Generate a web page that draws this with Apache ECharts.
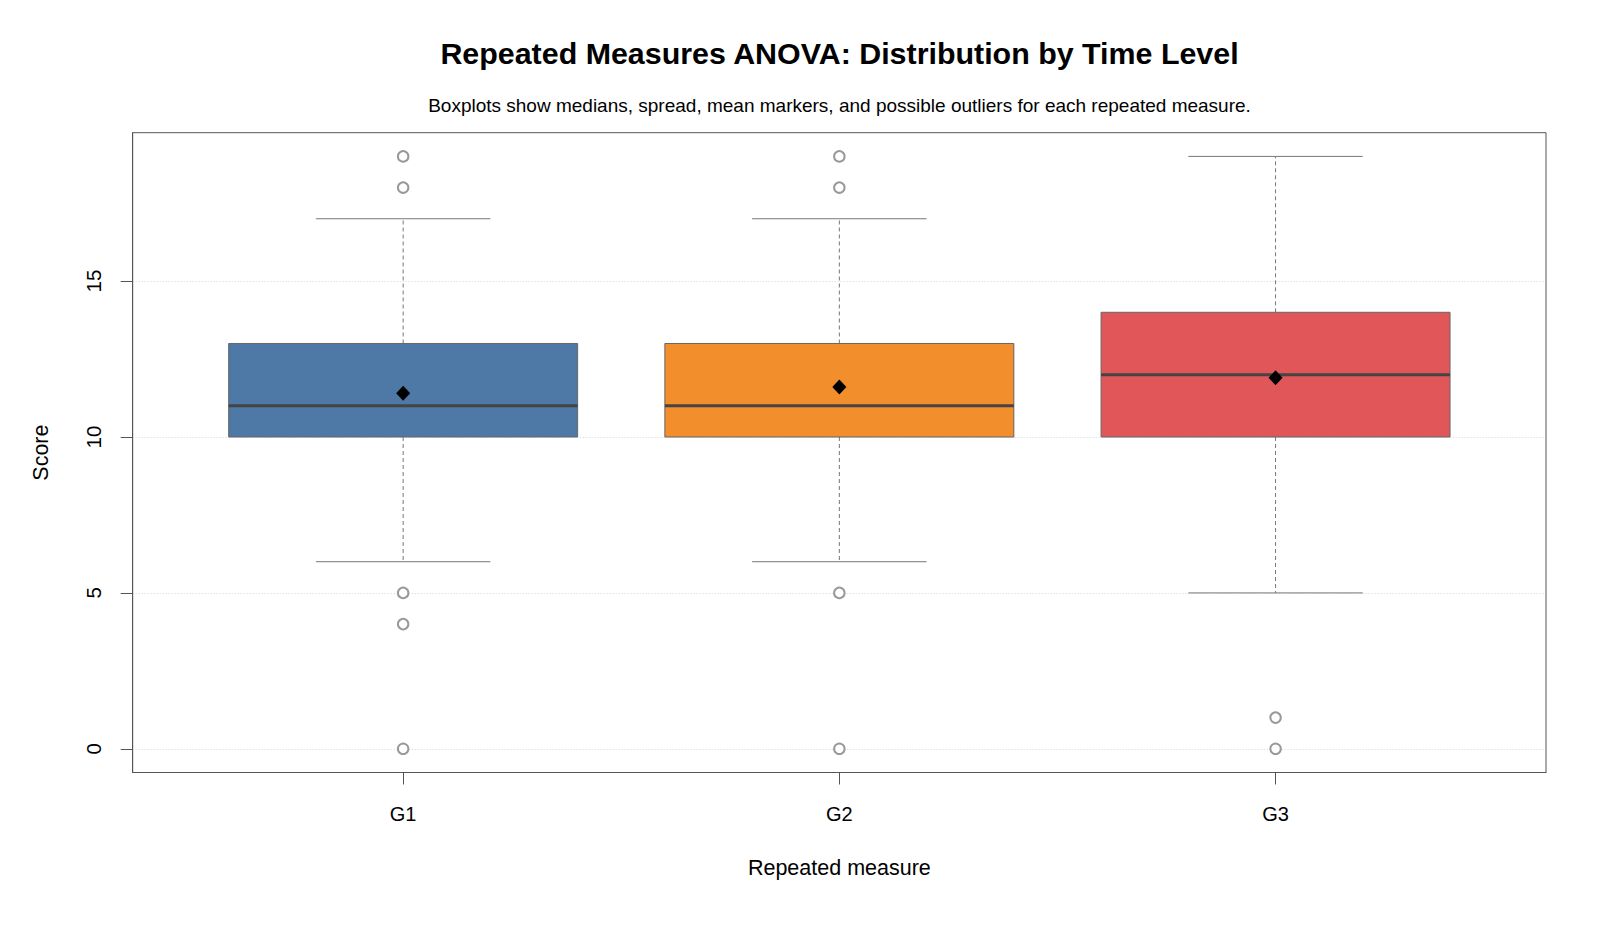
<!DOCTYPE html>
<html>
<head>
<meta charset="utf-8">
<script src="https://cdn.jsdelivr.net/npm/echarts@6/dist/echarts.min.js"></script>
<style>html,body{margin:0;padding:0;background:#fff;}#c{width:1600px;height:933px;}</style>
</head>
<body>
<div id="c"></div>
<script>
const categories = ['G1', 'G2', 'G3'];
const lowerWhisker = [6, 6, 5];
const q1 = [10, 10, 10];
const median = [11, 11, 12];
const q3 = [13, 13, 14];
const upperWhisker = [17, 17, 19];
const means = [11.4, 11.6, 11.9];
const outliers = [[19, 18, 5, 4, 0], [19, 18, 5, 0], [1, 0]];
const yTicks = [0, 5, 10, 15];
const boxColors = ['#4E79A7', '#F28E2B', '#E15759'];

const FONT = '"Liberation Sans", Arial, sans-serif';
const positions = categories.map((c, i) => i + 1);

const boxData = categories.map((c, i) => [positions[i], lowerWhisker[i], q1[i], median[i], q3[i], upperWhisker[i], i]);
const outlierData = [];
outliers.forEach((arr, i) => arr.forEach(v => outlierData.push([positions[i], v])));
const meanData = means.map((m, i) => [positions[i], m]);

function renderBox(params, api) {
  const x = api.value(0);
  const idx = api.value(6);
  const halfBox = api.size([0.4, 0])[0];
  const halfCap = api.size([0.2, 0])[0];
  const c = (v) => api.coord([x, v]);
  const pLw = c(api.value(1)), pQ1 = c(api.value(2)), pMed = c(api.value(3)), pQ3 = c(api.value(4)), pUw = c(api.value(5));
  const cx = pQ1[0];
  const dash = { stroke: '#777', lineWidth: 1, lineDash: [4, 3] };
  const solid = { stroke: '#777', lineWidth: 1 };
  return {
    type: 'group',
    children: [
      { type: 'line', shape: { x1: cx, y1: pQ1[1], x2: cx, y2: pLw[1] }, style: dash },
      { type: 'line', shape: { x1: cx, y1: pQ3[1], x2: cx, y2: pUw[1] }, style: dash },
      { type: 'line', shape: { x1: cx - halfCap, y1: pLw[1], x2: cx + halfCap, y2: pLw[1] }, style: solid },
      { type: 'line', shape: { x1: cx - halfCap, y1: pUw[1], x2: cx + halfCap, y2: pUw[1] }, style: solid },
      { type: 'rect', shape: { x: cx - halfBox, y: pQ3[1], width: halfBox * 2, height: pQ1[1] - pQ3[1] },
        style: { fill: boxColors[idx], stroke: '#666', lineWidth: 1 } },
      { type: 'line', shape: { x1: cx - halfBox, y1: pMed[1], x2: cx + halfBox, y2: pMed[1] },
        style: { stroke: '#444', lineWidth: 3 } }
    ]
  };
}

const chart = echarts.init(document.getElementById('c'), null, { renderer: 'svg' });
chart.setOption({
  backgroundColor: '#fff',
  animation: false,
  grid: { left: 132.7, right: 54, top: 132.7, bottom: 160.5, show: true, borderColor: '#555', borderWidth: 1, backgroundColor: 'transparent' },
  graphic: [
    { type: 'text', x: 839.5, y: 53, style: { text: 'Repeated Measures ANOVA: Distribution by Time Level', font: 'bold 30.4px ' + FONT, fill: '#000', textAlign: 'center', textVerticalAlign: 'middle' } },
    { type: 'text', x: 839.5, y: 105, style: { text: 'Boxplots show medians, spread, mean markers, and possible outliers for each repeated measure.', font: '19px ' + FONT, fill: '#000', textAlign: 'center', textVerticalAlign: 'middle' } }
  ],
  xAxis: {
    type: 'value', min: 0.38, max: 3.62,
    name: 'Repeated measure', nameLocation: 'middle', nameGap: 84,
    nameTextStyle: { fontFamily: FONT, fontSize: 21.5, color: '#000' },
    axisLine: { show: true, onZero: false, lineStyle: { color: '#555', width: 1 } },
    axisTick: { show: true, length: 12, lineStyle: { color: '#555' }, customValues: positions },
    axisLabel: { fontFamily: FONT, fontSize: 20, color: '#000', margin: 31, customValues: positions, formatter: v => categories[Math.round(v) - 1] || '' },
    splitLine: { show: false }
  },
  yAxis: {
    type: 'value', min: -0.76, max: 19.76,
    name: 'Score', nameLocation: 'middle', nameGap: 81, nameRotate: 90,
    nameTextStyle: { fontFamily: FONT, fontSize: 21.5, color: '#000' },
    axisLine: { show: true, onZero: false, lineStyle: { color: '#555', width: 1 } },
    axisTick: { show: true, length: 12, lineStyle: { color: '#555' }, customValues: yTicks },
    axisLabel: { fontFamily: FONT, fontSize: 20.5, color: '#000', rotate: 90, margin: 29, customValues: yTicks },
    splitLine: { show: true, lineStyle: { color: '#d4d4d4', type: [1, 2], width: 1 } }
  },
  series: [
    { type: 'custom', renderItem: renderBox, data: boxData, encode: { x: 0, y: [1, 2, 3, 4, 5] }, z: 2 },
    { type: 'scatter', data: outlierData, symbol: 'emptyCircle', symbolSize: 10.5,
      itemStyle: { color: '#999', borderColor: '#999', borderWidth: 0.9, opacity: 1 }, z: 3 },
    { type: 'scatter', data: meanData, symbol: 'diamond', symbolSize: [14, 15],
      itemStyle: { color: '#000', opacity: 1 }, z: 4 }
  ]
});
</script>
</body>
</html>
